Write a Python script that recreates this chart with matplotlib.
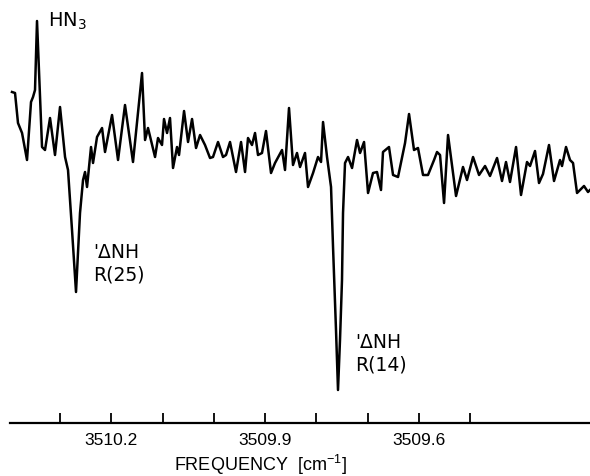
import matplotlib
matplotlib.use('Agg')
import matplotlib.pyplot as plt

plt.rcParams.update({
    'font.family': 'DejaVu Sans',
    'mathtext.default': 'regular',
    'mathtext.fontset': 'dejavusans',
})

# HN3 scan around 3510 cm-1, frequency (cm-1) and detector signal (arb. units)
freq = [
    3510.3937, 3510.3878, 3510.3820, 3510.3741, 3510.3644, 3510.3566, 3510.3527, 3510.3488, 3510.3449, 3510.3351,
    3510.3293, 3510.3195, 3510.3098, 3510.3000, 3510.2902, 3510.2844, 3510.2766, 3510.2688, 3510.2610, 3510.2551,
    3510.2512, 3510.2473, 3510.2395, 3510.2356, 3510.2278, 3510.2180, 3510.2122, 3510.1985, 3510.1868, 3510.1732,
    3510.1576, 3510.1400, 3510.1341, 3510.1283, 3510.1146, 3510.1088, 3510.1010, 3510.0971, 3510.0912, 3510.0854,
    3510.0795, 3510.0717, 3510.0678, 3510.0580, 3510.0502, 3510.0424, 3510.0346, 3510.0268, 3510.0171, 3510.0073,
    3510.0015, 3509.9917, 3509.9820, 3509.9761, 3509.9683, 3509.9566, 3509.9468, 3509.9390, 3509.9332, 3509.9254,
    3509.9195, 3509.9137, 3509.9059, 3509.8981, 3509.8883, 3509.8805, 3509.8668, 3509.8610, 3509.8532, 3509.8454,
    3509.8376, 3509.8317, 3509.8220, 3509.8161, 3509.8063, 3509.7966, 3509.7907, 3509.7868, 3509.7790, 3509.7712,
    3509.7673, 3509.7615, 3509.7576, 3509.7537, 3509.7498, 3509.7478, 3509.7439, 3509.7380, 3509.7302, 3509.7205,
    3509.7146, 3509.7068, 3509.6990, 3509.6893, 3509.6815, 3509.6737, 3509.6698, 3509.6581, 3509.6502, 3509.6405,
    3509.6268, 3509.6190, 3509.6093, 3509.6015, 3509.5917, 3509.5820, 3509.5702, 3509.5644, 3509.5585, 3509.5507,
    3509.5429, 3509.5273, 3509.5137, 3509.5059, 3509.4941, 3509.4824, 3509.4707, 3509.4610, 3509.4473, 3509.4376,
    3509.4298, 3509.4220, 3509.4102, 3509.4005, 3509.3888, 3509.3829, 3509.3732, 3509.3654, 3509.3576, 3509.3459,
    3509.3361, 3509.3244, 3509.3205, 3509.3127, 3509.3049, 3509.2990, 3509.2912, 3509.2776, 3509.2698, 3509.2659,
]
signal = [
    331, 330, 300, 290, 263, 321, 326, 333, 402, 276,
    273, 305, 268, 316, 266, 253, 193, 131, 210, 243,
    251, 236, 276, 260, 286, 295, 271, 308, 263, 318,
    261, 350, 283, 295, 266, 285, 278, 304, 290, 305,
    255, 276, 268, 312, 281, 304, 275, 288, 278, 265,
    266, 281, 266, 268, 281, 251, 281, 251, 285, 278,
    290, 268, 270, 292, 250, 260, 273, 253, 315, 258,
    270, 256, 270, 236, 250, 266, 261, 301, 266, 236,
    176, 93, 33, 83, 143, 210, 260, 266, 255, 283,
    270, 281, 230, 250, 251, 233, 271, 276, 248, 246,
    280, 309, 273, 275, 248, 248, 263, 271, 268, 220,
    288, 227, 256, 243, 266, 248, 257, 247, 265, 242,
    261, 241, 276, 228, 261, 257, 272, 240, 249, 278,
    242, 263, 257, 276, 263, 260, 230, 237, 231, 233,
]

tick_pos = [3510.3, 3510.2, 3510.1, 3510.0, 3509.9, 3509.8, 3509.7, 3509.6, 3509.5]
tick_labels = ['', '3510.2', '', '', '3509.9', '', '', '3509.6', '']

fig = plt.figure(figsize=(5.9, 4.76), dpi=100)
ax = fig.add_axes([10 / 590, 53 / 476, 580 / 590, 423 / 476])

ax.plot(freq, signal, color='black', linewidth=1.8, solid_joinstyle='round')

ax.set_xlim(3510.3976, 3509.2659)
ax.set_ylim(0, 423)

for side in ['left', 'right', 'top']:
    ax.spines[side].set_visible(False)
ax.spines['bottom'].set_linewidth(1.6)
ax.set_yticks([])
ax.set_xticks(tick_pos)
ax.set_xticklabels(tick_labels, family='Liberation Sans', fontsize=12.5)
ax.tick_params(axis='x', direction='in', length=7, width=1.3, pad=7)

# peak labels
ax.text(3510.3234, 412, 'HN$_3$', fontsize=14, ha='left', va='top')
ax.text(3510.2356, 180, "'ΔNH\nR(25)", fontsize=13.5, ha='left', va='top',
        linespacing=1.25)
ax.text(3509.7244, 90, "'ΔNH\nR(14)", fontsize=13.5, ha='left', va='top',
        linespacing=1.25)

fig.text(260 / 590, 11 / 476, 'FREQUENCY  [cm$^{-1}$]', fontsize=13, ha='center',
         va='center', family='Liberation Sans')

fig.savefig('out.png', dpi=100)
